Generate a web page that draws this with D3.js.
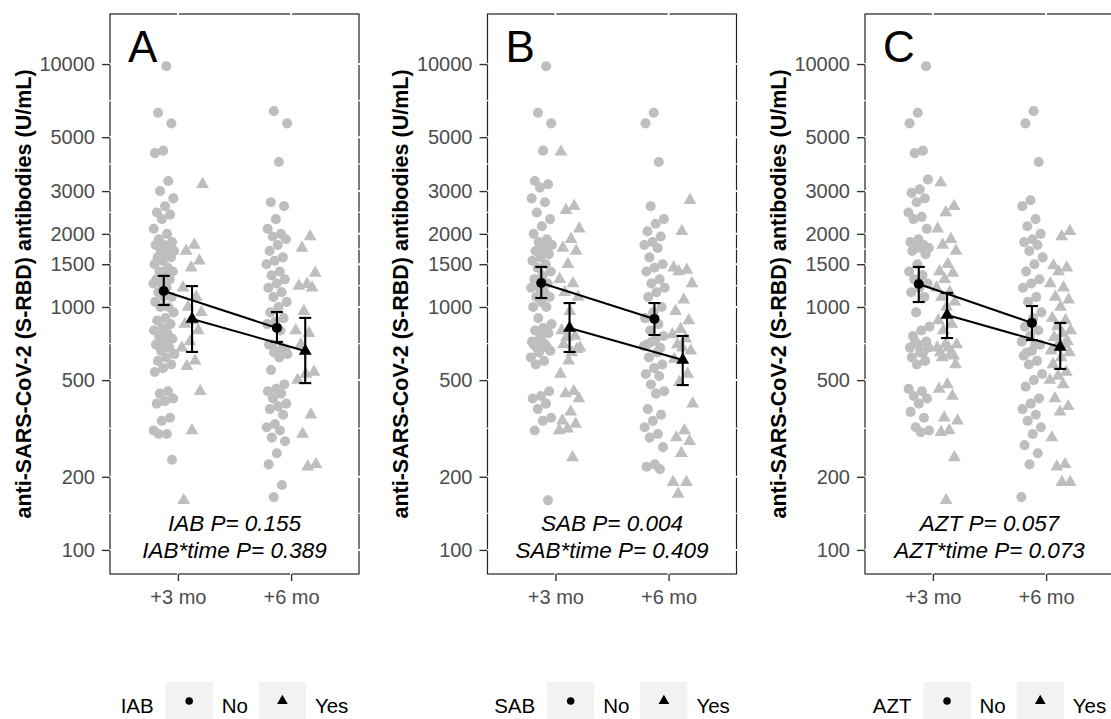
<!DOCTYPE html>
<html>
<head>
<meta charset="utf-8">
<script src="https://cdn.jsdelivr.net/npm/d3@7"></script>
<style>
  html, body { margin: 0; padding: 0; background: #fff; }
  svg text { font-family: "Liberation Sans", Arial, sans-serif; }
</style>
</head>
<body>
<div id="chart"></div>
<script>
// categories and labels
const timeLabels = ['+3 mo', '+6 mo'];
const groupLabels = ['No', 'Yes'];
const panelLetters = ['A', 'B', 'C'];
const factorNames = ['IAB', 'SAB', 'AZT'];
const pLabels = [
  ['IAB P= 0.155', 'IAB*time P= 0.389'],
  ['SAB P= 0.004', 'SAB*time P= 0.409'],
  ['AZT P= 0.057', 'AZT*time P= 0.073'],
];
const yTicks = [100, 200, 500, 1000, 1500, 2000, 3000, 5000, 10000];
const yTitle = 'anti-SARS-CoV-2 (S-RBD) antibodies (U/mL)';

// individual antibody values (U/mL)
const iabNo3 = [9800, 6300, 5700, 4400, 4300, 3300, 3000, 2800, 2600, 2450, 2400, 2300, 2100, 2000, 1900, 1850, 1800, 1800, 1750, 1700, 1700, 1650, 1600, 1600, 1550, 1500, 1450, 1400, 1400, 1350, 1300, 1300, 1250, 1250, 1200, 1150, 1100, 1100, 1050, 1000, 1000, 950, 900, 880, 850, 820, 800, 780, 760, 740, 720, 700, 680, 660, 640, 620, 600, 580, 560, 540, 450, 440, 420, 410, 400, 350, 340, 310, 300, 300, 235];
const iabYes3 = [3200, 1800, 1700, 1550, 1450, 1200, 1100, 1000, 950, 880, 850, 800, 720, 680, 600, 570, 450, 310, 160];
const iabNo6 = [6400, 5700, 3950, 2700, 2600, 2300, 2100, 2000, 1950, 1900, 1800, 1700, 1600, 1550, 1500, 1400, 1350, 1300, 1250, 1200, 1150, 1100, 1050, 1000, 950, 900, 870, 850, 800, 700, 670, 650, 700, 680, 650, 640, 620, 550, 480, 460, 450, 440, 420, 400, 390, 380, 360, 330, 320, 310, 290, 280, 250, 225, 185, 165];
const iabYes6 = [1950, 1750, 1380, 1240, 1220, 1200, 960, 800, 780, 700, 540, 530, 500, 360, 300, 225, 220];

const sabNo3 = [9800, 6300, 5700, 4400, 3300, 3200, 3100, 2800, 2700, 2450, 2300, 2150, 2000, 1900, 1850, 1800, 1750, 1700, 1650, 1600, 1550, 1500, 1450, 1400, 1350, 1300, 1250, 1200, 1200, 1150, 1100, 1100, 1050, 1000, 1000, 900, 850, 820, 800, 780, 750, 720, 700, 680, 660, 720, 700, 680, 650, 620, 600, 580, 450, 430, 420, 400, 380, 350, 340, 310, 160];
const sabYes3 = [4350, 2600, 2500, 2100, 1900, 1750, 1700, 1500, 1300, 1250, 1150, 1100, 960, 800, 760, 750, 680, 650, 700, 670, 600, 530, 450, 440, 420, 370, 340, 330, 315, 310, 240];
const sabNo6 = [6300, 5700, 3950, 2600, 2300, 2200, 2050, 1950, 1850, 1800, 1750, 1600, 1500, 1450, 1400, 1300, 1250, 1200, 1150, 1100, 1000, 950, 900, 850, 800, 760, 730, 700, 680, 720, 690, 650, 620, 580, 560, 530, 520, 480, 450, 440, 380, 360, 340, 320, 300, 290, 265, 225, 220, 215];
const sabYes6 = [2750, 2050, 1450, 1420, 1400, 1250, 1070, 960, 880, 810, 770, 740, 700, 660, 680, 610, 530, 490, 400, 310, 290, 280, 250, 190, 190, 170];

const aztNo3 = [9800, 6300, 5700, 4400, 4300, 3350, 3050, 2950, 2800, 2700, 2450, 2350, 2300, 2100, 1900, 1850, 1800, 1800, 1750, 1750, 1700, 1650, 1500, 1400, 1350, 1300, 1250, 1200, 1150, 1100, 950, 830, 800, 760, 720, 700, 680, 650, 720, 680, 650, 620, 600, 580, 460, 450, 430, 420, 400, 370, 350, 320, 310, 305];
const aztYes3 = [3250, 2600, 2450, 2100, 1900, 1800, 1700, 1500, 1400, 1380, 1300, 1200, 1150, 1100, 1050, 1000, 880, 850, 800, 700, 680, 650, 630, 700, 680, 640, 620, 580, 480, 460, 430, 350, 340, 310, 305, 240, 160];
const aztNo6 = [6400, 5700, 3950, 2750, 2600, 2300, 2150, 2000, 1900, 1850, 1800, 1700, 1600, 1500, 1400, 1300, 1250, 1200, 1100, 1050, 950, 900, 830, 800, 760, 720, 700, 650, 700, 660, 630, 600, 580, 530, 500, 470, 420, 400, 380, 360, 340, 320, 300, 270, 250, 225, 165];
const aztYes6 = [2050, 1950, 1480, 1450, 1400, 1250, 1200, 1100, 1070, 1000, 900, 880, 830, 800, 780, 750, 720, 700, 660, 700, 680, 650, 620, 580, 540, 520, 500, 480, 420, 390, 370, 290, 225, 220, 190, 190];

// estimated means with lower / upper limits: [time, group, mean, low, high]
const iabSummary = [
  ['+3 mo', 'No', 1164, 1019, 1343], ['+3 mo', 'Yes', 893, 653, 1219],
  ['+6 mo', 'No', 820, 718, 953], ['+6 mo', 'Yes', 659, 486, 902],
];
const sabSummary = [
  ['+3 mo', 'No', 1256, 1089, 1462], ['+3 mo', 'Yes', 820, 653, 1038],
  ['+6 mo', 'No', 893, 767, 1038], ['+6 mo', 'Yes', 605, 477, 760],
];
const aztSummary = [
  ['+3 mo', 'No', 1244, 1048, 1462], ['+3 mo', 'Yes', 927, 745, 1143],
  ['+6 mo', 'No', 860, 731, 1009], ['+6 mo', 'Yes', 684, 556, 860],
];

const panelPoints = [
  [['+3 mo', 'No', iabNo3], ['+3 mo', 'Yes', iabYes3], ['+6 mo', 'No', iabNo6], ['+6 mo', 'Yes', iabYes6]],
  [['+3 mo', 'No', sabNo3], ['+3 mo', 'Yes', sabYes3], ['+6 mo', 'No', sabNo6], ['+6 mo', 'Yes', sabYes6]],
  [['+3 mo', 'No', aztNo3], ['+3 mo', 'Yes', aztYes3], ['+6 mo', 'No', aztNo6], ['+6 mo', 'Yes', aztYes6]],
];
const panelSummary = [iabSummary, sabSummary, aztSummary];

// layout
const W = 1111, H = 719;
const panelStep = 377.5;
const mLeft = 110, mTop = 14;
const pw = 249, ph = 560;
const grey = '#BEBEBE';

const svg = d3.select('#chart').append('svg')
  .attr('width', W).attr('height', H);

const y = d3.scaleLog().domain([79.6, 16070]).range([ph, 0]);
const xPos = d3.scaleLinear().domain([0.4, 2.6]).range([0, pw]);
const xCat = d3.scalePoint().domain(timeLabels).range([xPos(1), xPos(2)]);
const unit = xPos(2) - xPos(1);
const dodge = { No: -0.125 * unit, Yes: 0.125 * unit };
const minorTicks = d3.pairs(yTicks).map(([a, b]) => Math.sqrt(a * b));

// spread of the jittered points (deterministic, layout only)
const jit = (i, seed) => {
  const f = ((i + 1) * 0.6180339887 + seed) % 1;
  return (f - 0.5) * 2 * 0.095 * unit;
};

const shape = (g, s) => d3.symbol(g === 'No' ? d3.symbolCircle : d3.symbolTriangle, s)();

panelLetters.forEach((letter, p) => {
  const ox = p * panelStep;
  const g = svg.append('g').attr('transform', `translate(${ox + mLeft},${mTop})`);

  // panel background + border, white grid drawn over it
  g.append('rect')
    .attr('width', pw).attr('height', ph)
    .attr('fill', '#fff').attr('stroke', '#222').attr('stroke-width', 1.2);

  g.selectAll('line.minor').data(minorTicks).enter().append('line')
    .attr('class', 'minor')
    .attr('x1', -1).attr('x2', pw + 1)
    .attr('y1', (d) => y(d)).attr('y2', (d) => y(d))
    .attr('stroke', '#fff').attr('stroke-width', 1.2);
  g.selectAll('line.major').data(yTicks).enter().append('line')
    .attr('class', 'major')
    .attr('x1', -1).attr('x2', pw + 1)
    .attr('y1', (d) => y(d)).attr('y2', (d) => y(d))
    .attr('stroke', '#fff').attr('stroke-width', 2);
  g.selectAll('line.xmajor').data(timeLabels).enter().append('line')
    .attr('class', 'xmajor')
    .attr('x1', (d) => xCat(d)).attr('x2', (d) => xCat(d))
    .attr('y1', -1).attr('y2', ph + 1)
    .attr('stroke', '#fff').attr('stroke-width', 2);

  // raw points
  panelPoints[p].forEach(([time, grp, vals], k) => {
    g.append('g').selectAll('path')
      .data(vals).enter().append('path')
      .attr('d', shape(grp, grp === 'No' ? 80 : 72))
      .attr('transform', (d, i) =>
        `translate(${xCat(time) + dodge[grp] + jit(i, k * 0.37 + p * 0.11)},${y(d)})`)
      .attr('fill', grey);
  });

  // mean lines
  const summ = panelSummary[p];
  groupLabels.forEach((grp) => {
    const rows = summ.filter((r) => r[1] === grp);
    g.append('path')
      .datum(rows)
      .attr('d', d3.line().x((r) => xCat(r[0]) + dodge[grp]).y((r) => y(r[2])))
      .attr('fill', 'none').attr('stroke', '#000').attr('stroke-width', 2);
  });

  // error bars
  const eb = g.append('g').attr('stroke', '#000').attr('stroke-width', 2.1);
  summ.forEach((r) => {
    const cx = xCat(r[0]) + dodge[r[1]];
    eb.append('line').attr('x1', cx).attr('x2', cx).attr('y1', y(r[3])).attr('y2', y(r[4]));
    eb.append('line').attr('x1', cx - 6).attr('x2', cx + 6).attr('y1', y(r[3])).attr('y2', y(r[3]));
    eb.append('line').attr('x1', cx - 6).attr('x2', cx + 6).attr('y1', y(r[4])).attr('y2', y(r[4]));
  });

  // mean markers
  g.selectAll('path.mean').data(summ).enter().append('path')
    .attr('class', 'mean')
    .attr('d', (r) => shape(r[1], r[1] === 'No' ? 80 : 72))
    .attr('transform', (r) => `translate(${xCat(r[0]) + dodge[r[1]]},${y(r[2])})`)
    .attr('fill', '#000');

  // axes
  const ya = g.append('g').call(
    d3.axisLeft(y).tickValues(yTicks).tickFormat(d3.format('d')).tickSize(8).tickSizeOuter(0).tickPadding(7)
  );
  const xa = g.append('g').attr('transform', `translate(0,${ph})`).call(
    d3.axisBottom(xCat).tickSize(7).tickSizeOuter(0).tickPadding(9)
  );
  [ya, xa].forEach((a) => {
    a.select('.domain').remove();
    a.selectAll('line').attr('stroke', '#333').attr('stroke-width', 1.4);
    a.selectAll('text').attr('fill', '#4D4D4D').style('font-size', '20px').attr('font-family', null);
  });

  // panel letter
  g.append('text')
    .attr('x', 18).attr('y', 48)
    .style('font-size', '44px')
    .attr('fill', '#000')
    .text(letter);

  // p-value annotation
  pLabels[p].forEach((t, i) => {
    g.append('text')
      .attr('x', pw / 2).attr('y', 517 + i * 27)
      .attr('text-anchor', 'middle')
      .style('font-size', '22.5px').style('font-style', 'italic')
      .attr('fill', '#000')
      .text(t);
  });

  // y axis title
  svg.append('text')
    .attr('transform', `translate(${ox + 23},${mTop + ph / 2}) rotate(-90)`)
    .attr('dy', '0.35em')
    .attr('text-anchor', 'middle')
    .style('font-size', '21.5px').style('font-weight', 'bold')
    .attr('fill', '#000')
    .text(yTitle);

  // legend
  const lg = svg.append('g');
  const title = lg.append('text').attr('x', 0).attr('y', 713)
    .style('font-size', '20.5px').attr('fill', '#000').text(factorNames[p]);
  let cx = title.node().getComputedTextLength() + 12;
  groupLabels.forEach((grp, k) => {
    lg.append('rect').attr('x', cx).attr('y', 682).attr('width', 47).attr('height', 38).attr('fill', '#F2F2F2');
    lg.append('path').attr('d', shape(grp, grp === 'No' ? 45 : 50))
      .attr('transform', `translate(${cx + 23.5},${701})`).attr('fill', '#000');
    cx += 47 + 9;
    const t = lg.append('text').attr('x', cx).attr('y', 713)
      .style('font-size', '20.5px').attr('fill', '#000').text(grp);
    cx += t.node().getComputedTextLength() + (k === 0 ? 11 : 0);
  });
  lg.attr('transform', `translate(${ox + mLeft + pw / 2 - cx / 2},0)`);
});
</script>
</body>
</html>
